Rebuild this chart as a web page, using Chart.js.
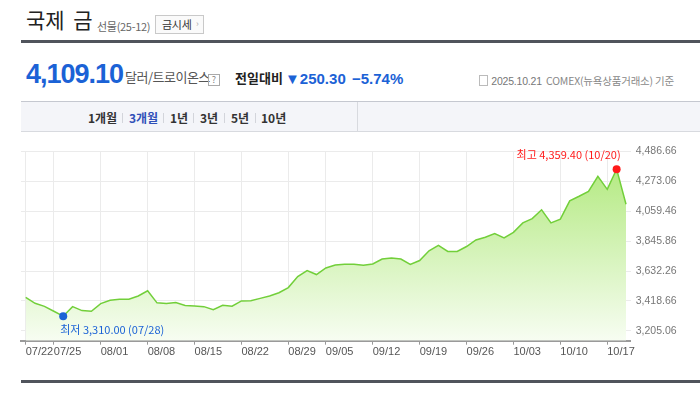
<!DOCTYPE html>
<html>
<head>
<meta charset="utf-8">
<title>국제 금</title>
<script src="https://cdn.jsdelivr.net/npm/chart.js"></script>
<style>
  body { margin: 0; width: 700px; height: 396px; overflow: hidden; background: #fff;
         font-family: "Noto Sans CJK KR", sans-serif; position: relative; }
  .abs { position: absolute; white-space: nowrap; }
  .num { font-family: "Liberation Sans", Arial, sans-serif; }
  .blue { color: #1b62d6; }
  .tab { position: absolute; top: 109px; line-height: 18px; font-size: 12px; font-weight: bold; color: #333; }
  .sep { position: absolute; top: 113px; width: 1px; height: 10px; background: #d3d5db; }
</style>
</head>
<body>
  <!-- header -->
  <div class="abs" style="left:26px; top:5px; font-size:21px; line-height:28px; color:#222; word-spacing:4px;">국제 금</div>
  <div class="abs" style="left:97px; top:17px; font-size:11px; line-height:18px; color:#666; letter-spacing:-0.3px;">선물(25-12)</div>
  <div class="abs" style="left:155px; top:15px; width:47px; height:17px; border:1px solid #c9c9c9; background:#fafafa;">
    <span class="abs" style="left:6px; top:0; font-size:11px; line-height:17px; color:#333; letter-spacing:-0.3px;">금시세</span>
    <span class="abs" style="left:40px; top:0; font-size:9px; line-height:16px; color:#aaa;">›</span>
  </div>
  <div class="abs" style="left:21px; top:40px; width:679px; height:3px; background:#50545c;"></div>

  <!-- price row -->
  <div class="abs num blue" style="left:26px; top:58px; font-size:27px; line-height:32px; font-weight:bold; letter-spacing:-1px;">4,109.10</div>
  <div class="abs" style="left:125px; top:68px; font-size:13px; line-height:18px; color:#555; letter-spacing:-0.5px;">달러/트로이온스</div>
  <div class="abs" style="left:208px; top:74px; width:10px; height:10px; border:1px solid #aaa; font-size:9px; line-height:10px; text-align:center; color:#888;">?</div>
  <div class="abs" style="left:235px; top:69px; font-size:13px; line-height:18px; font-weight:bold; color:#222;">전일대비</div>
  <div class="abs num blue" style="left:285px; top:70px; font-size:15px; line-height:18px; font-weight:bold;">▼250.30</div>
  <div class="abs num blue" style="left:352px; top:70px; font-size:15px; line-height:18px; font-weight:bold;">−5.74%</div>
  <div class="abs" style="right:26px; top:73px; font-size:10.5px; line-height:16px; color:#888; letter-spacing:-0.2px;"><span style="display:inline-block; width:7px; height:9px; border:1px solid #bbb; margin-right:3px; vertical-align:-1px;"></span><span class="num" style="color:#777;">2025.10.21</span>&nbsp; COMEX(뉴욕상품거래소) 기준</div>

  <!-- period tabs -->
  <div class="abs" style="left:21px; top:101px; width:679px; height:29px; background:#f4f5f9; border-top:1px solid #c5c8d0; border-bottom:1px solid #d8dadf;"></div>
  <div class="abs" style="left:357px; top:102px; width:1px; height:29px; background:#d8dadf;"></div>
  <div class="tab" style="left:88px;">1개월</div>
  <div class="sep" style="left:122px;"></div>
  <div class="tab" style="left:129px; color:#3050b8;">3개월</div>
  <div class="sep" style="left:163px;"></div>
  <div class="tab" style="left:170px;">1년</div>
  <div class="sep" style="left:193px;"></div>
  <div class="tab" style="left:200px;">3년</div>
  <div class="sep" style="left:224px;"></div>
  <div class="tab" style="left:231px;">5년</div>
  <div class="sep" style="left:255px;"></div>
  <div class="tab" style="left:261px;">10년</div>

  <canvas id="gold-chart" width="700" height="230" style="position:absolute; left:0; top:140px;"></canvas>

  <div class="abs" style="left:21px; top:380px; width:679px; height:3px; background:#50545c;"></div>

  <script>
    // trading days shown on the chart
    const dates = [
      '07/22', '07/23', '07/24', '07/25',
      '07/28', '07/29', '07/30', '07/31', '08/01',
      '08/04', '08/05', '08/06', '08/07', '08/08',
      '08/11', '08/12', '08/13', '08/14', '08/15',
      '08/18', '08/19', '08/20', '08/21', '08/22',
      '08/25', '08/26', '08/27', '08/28', '08/29',
      '09/02', '09/03', '09/04', '09/05',
      '09/08', '09/09', '09/10', '09/11', '09/12',
      '09/15', '09/16', '09/17', '09/18', '09/19',
      '09/22', '09/23', '09/24', '09/25', '09/26',
      '09/29', '09/30', '10/01', '10/02', '10/03',
      '10/06', '10/07', '10/08', '10/09', '10/10',
      '10/13', '10/14', '10/15', '10/16', '10/17',
      '10/20', '10/21'
    ];

    // closing price, USD per troy ounce
    const prices = [
      3444, 3402, 3380, 3345,
      3310, 3378, 3350, 3345, 3400,
      3423, 3431, 3431, 3454, 3491,
      3405, 3400, 3407, 3386, 3383,
      3378, 3357, 3388, 3381, 3419,
      3420, 3437, 3454, 3477, 3514,
      3593, 3635, 3607, 3654,
      3675, 3680, 3680, 3674, 3683,
      3718, 3725, 3718, 3679, 3707,
      3777, 3816, 3772, 3772, 3807,
      3854, 3873, 3899, 3868, 3908,
      3976, 4006, 4069, 3976, 4002,
      4133, 4166, 4201, 4308, 4215,
      4359.40, 4109.10
    ];

    // labelled dates on the x axis
    const dateTicks = ['07/22', '07/25', '08/01', '08/08', '08/15', '08/22', '08/29',
                       '09/05', '09/12', '09/19', '09/26', '10/03', '10/10', '10/17'];

    // y axis tick values
    const priceTicks = [3205.06, 3418.66, 3632.26, 3845.86, 4059.46, 4273.06, 4486.66];
    const yMin = 3135;
    const yMax = 4486.66;

    const fmt = v => v.toLocaleString('en-US', { minimumFractionDigits: 2, maximumFractionDigits: 2 });
    const maxIdx = prices.indexOf(Math.max(...prices));
    const minIdx = prices.indexOf(Math.min(...prices));

    // high / low captions next to the marked points
    const extremaLabels = {
      id: 'extremaLabels',
      afterDatasetsDraw(chart) {
        const pts = chart.getDatasetMeta(0).data;
        const ctx = chart.ctx;
        const hi = pts[maxIdx], lo = pts[minIdx];
        ctx.save();
        ctx.font = '11px "Noto Sans CJK KR", sans-serif';
        ctx.textBaseline = 'middle';
        ctx.fillStyle = '#ff1a1a';
        ctx.textAlign = 'right';
        ctx.fillText('최고 ' + fmt(prices[maxIdx]) + ' (' + dates[maxIdx] + ')', hi.x + 4, hi.y - 14);
        ctx.fillStyle = '#1b62d6';
        ctx.textAlign = 'left';
        ctx.fillText('최저 ' + fmt(prices[minIdx]) + ' (' + dates[minIdx] + ')', lo.x - 3, lo.y + 14);
        ctx.restore();
      }
    };

    const ctx = document.getElementById('gold-chart').getContext('2d');
    new Chart(ctx, {
      type: 'line',
      data: {
        labels: dates,
        datasets: [{
          data: prices,
          borderColor: '#72cf3a',
          borderWidth: 1.5,
          tension: 0,
          fill: 'start',
          backgroundColor: (c) => {
            const a = c.chart.chartArea;
            if (!a) return 'rgba(0,0,0,0)';
            const g = c.chart.ctx.createLinearGradient(0, a.top, 0, a.bottom);
            g.addColorStop(0, '#aee878');
            g.addColorStop(1, '#f7fdf2');
            return g;
          },
          pointRadius: (c) => (c.dataIndex === maxIdx || c.dataIndex === minIdx) ? 4 : 0,
          pointBackgroundColor: (c) => c.dataIndex === maxIdx ? '#ff1a1a' : '#1b62d6',
          pointBorderWidth: 0
        }]
      },
      options: {
        responsive: false,
        animation: false,
        devicePixelRatio: 1,
        layout: { padding: { left: 21, top: 8.3, right: 0, bottom: 0 } },
        plugins: {
          legend: { display: false },
          tooltip: { enabled: false }
        },
        scales: {
          x: {
            type: 'category',
            offset: true,
            grid: { color: '#ebebeb', tickLength: 4, tickColor: '#999' },
            border: { color: '#9a9a9a', width: 2 },
            ticks: {
              autoSkip: false,
              maxRotation: 0,
              align: 'start',
              padding: 1,
              color: '#555',
              font: { family: '"Liberation Sans", Arial, sans-serif', size: 11 }
            },
            afterBuildTicks: (axis) => {
              axis.ticks = axis.ticks.filter(t => dateTicks.includes(dates[t.value]));
            },
            afterFit: (s) => { s.height = 29.3; }
          },
          y: {
            position: 'right',
            min: yMin,
            max: yMax,
            grid: { color: '#ebebeb', drawTicks: false },
            border: { display: false },
            ticks: {
              padding: 5,
              color: '#777',
              font: { family: '"Liberation Sans", Arial, sans-serif', size: 10.5 },
              callback: (v) => fmt(v)
            },
            afterBuildTicks: (axis) => {
              axis.ticks = priceTicks.map(v => ({ value: v }));
            },
            afterFit: (s) => { s.width = 69.3; }
          }
        }
      },
      plugins: [extremaLabels]
    });
  </script>
</body>
</html>
